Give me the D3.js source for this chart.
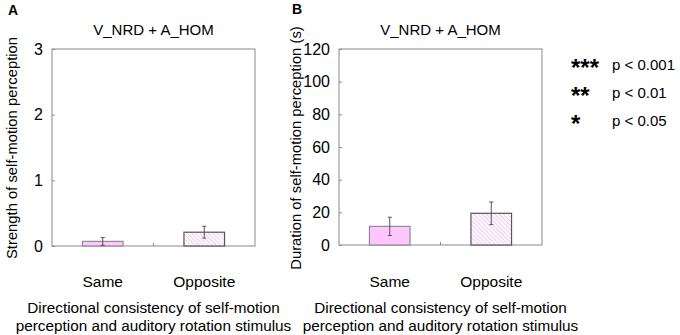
<!DOCTYPE html>
<html><head><meta charset="utf-8">
<script src="https://cdn.jsdelivr.net/npm/d3@7"></script>
<style>body{margin:0;background:#fff}svg{display:block;font-family:"Liberation Sans",Arial,sans-serif}</style>
</head><body><svg id="c" width="680" height="335"></svg>
<script>
const categories = ["Same", "Opposite"];
const strengthMean = [0.07, 0.21];
const strengthErr = [0.06, 0.09];
const durationMean = [11.4, 19.4];
const durationErr = [5.6, 6.9];
const strengthTicks = [0, 1, 2, 3];
const durationTicks = [0, 20, 40, 60, 80, 100, 120];
const panelTitle = "V_NRD + A_HOM";
const xTitle = ["Directional consistency of self-motion", "perception and auditory rotation stimulus"];
const legendStars = ["***", "**", "*"];
const legendText = ["p < 0.001", "p < 0.01", "p < 0.05"];

const svg = d3.select("#c");
const defs = svg.append("defs");
const pat = defs.append("pattern").attr("id","hatch").attr("patternUnits","userSpaceOnUse")
  .attr("width",3).attr("height",3).attr("patternTransform","rotate(-45)");
pat.append("rect").attr("width",3).attr("height",3).attr("fill","#fff");
pat.append("line").attr("x1",0).attr("y1",0).attr("x2",0).attr("y2",3).attr("stroke","#f2a6f2").attr("stroke-width",1.3);

function panel(o){
  const g = svg.append("g");
  const x = d3.scaleBand().domain(categories).range([o.x0,o.x1]).paddingInner(0.6).paddingOuter(0.3);
  const y = d3.scaleLinear().domain([0,o.max]).range([o.y1,o.y0]);
  g.append("rect").attr("x",o.x0).attr("y",o.y0).attr("width",o.x1-o.x0).attr("height",o.y1-o.y0)
    .attr("fill","none").attr("stroke","#8a8a8a").attr("stroke-width",1);
  const ax = d3.axisLeft(y).tickValues(o.ticks).tickSize(-3).tickPadding(9).tickFormat(d3.format("d"));
  const ag = g.append("g").attr("transform",`translate(${o.x0},0)`).call(ax);
  ag.select(".domain").remove();
  ag.selectAll(".tick line").attr("stroke","#8a8a8a");
  ag.selectAll(".tick text").attr("font-size",16).attr("fill","#000").attr("font-family","Liberation Sans, Arial, sans-serif");
  g.append("line").attr("x1",(o.x0+o.x1)/2).attr("x2",(o.x0+o.x1)/2).attr("y1",o.y1).attr("y2",o.y1-3).attr("stroke","#8a8a8a");
  g.selectAll(".bar").data(categories).join("rect")
    .attr("x",d=>x(d)).attr("width",x.bandwidth())
    .attr("y",(d,i)=>y(o.mean[i])).attr("height",(d,i)=>y(0)-y(o.mean[i]))
    .attr("fill",(d,i)=>i===0?"#ffc6ff":"url(#hatch)")
    .attr("stroke",(d,i)=>i===0?"#8c8c8c":"#555").attr("stroke-width",1.2);
  const eg = g.selectAll(".err").data(categories).join("g").attr("stroke","#555").attr("stroke-width",1);
  eg.append("line").attr("x1",d=>x(d)+x.bandwidth()/2).attr("x2",d=>x(d)+x.bandwidth()/2)
    .attr("y1",(d,i)=>y(o.mean[i]+o.err[i])).attr("y2",(d,i)=>y(Math.max(0,o.mean[i]-o.err[i])));
  [1,-1].forEach(s=>{
    eg.append("line").attr("x1",d=>x(d)+x.bandwidth()/2-2).attr("x2",d=>x(d)+x.bandwidth()/2+2)
      .attr("y1",(d,i)=>y(Math.max(0,o.mean[i]+s*o.err[i]))).attr("y2",(d,i)=>y(Math.max(0,o.mean[i]+s*o.err[i])));
  });
  g.selectAll(".cat").data(categories).join("text").attr("x",d=>x(d)+x.bandwidth()/2).attr("y",287)
    .attr("text-anchor","middle").attr("font-size",15.5).text(d=>d);
  g.append("text").attr("x",(o.x0+o.x1)/2).attr("y",35).attr("text-anchor","middle").attr("font-size",15).text(panelTitle);
  xTitle.forEach((t,i)=>g.append("text").attr("x",(o.x0+o.x1)/2).attr("y",313+i*17.5).attr("text-anchor","middle").attr("font-size",15.3).text(t));
  g.append("text").attr("transform",`translate(${o.yt},148) rotate(-90)`).attr("text-anchor","middle")
    .attr("font-size",14.8).text(o.ytitle);
  g.append("text").attr("x",o.lx).attr("y",o.ly).attr("font-weight","bold").attr("font-size",14).text(o.letter);
}

panel({x0:52,x1:255,y0:49,y1:246,max:3,ticks:strengthTicks,mean:strengthMean,err:strengthErr,
  ytitle:"Strength of self-motion perception",yt:17,letter:"A",lx:8,ly:15});
panel({x0:339,x1:542,y0:49,y1:245,max:120,ticks:durationTicks,mean:durationMean,err:durationErr,
  ytitle:"Duration of self-motion perception (s)",yt:301,letter:"B",lx:292,ly:14});

const lg = svg.append("g");
legendStars.forEach((s,i)=>{
  lg.append("text").attr("x",571).attr("y",76+i*28).attr("font-size",24).attr("font-weight","bold").text(s);
  lg.append("text").attr("x",612).attr("y",70+i*28).attr("font-size",15).text(legendText[i]);
});
</script></body></html>
